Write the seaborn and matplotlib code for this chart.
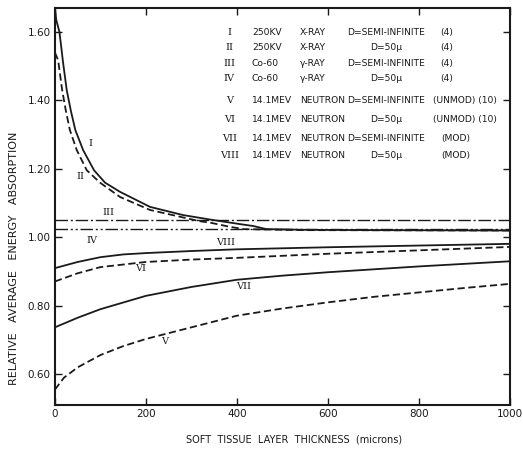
import numpy as np
import pandas as pd
import seaborn as sns
import matplotlib
matplotlib.use("Agg")
import matplotlib.pyplot as plt

# curve data (thickness in microns, relative absorption)
x_I = [0, 3, 10, 18, 26, 35, 45, 62, 86, 110, 143, 209, 282, 341, 400, 436, 465, 550, 700, 1000]
y_I = [1.67, 1.635, 1.60, 1.51, 1.43, 1.37, 1.313, 1.255, 1.196, 1.160, 1.133, 1.089, 1.065,
       1.052, 1.040, 1.033, 1.024, 1.022, 1.021, 1.02]
x_II = [0, 7, 16, 24, 33, 48, 70, 99, 143, 209, 282, 319, 341, 380, 414, 550, 1000]
y_II = [1.54, 1.518, 1.43, 1.37, 1.313, 1.255, 1.196, 1.16, 1.118, 1.080, 1.058, 1.047, 1.043,
        1.032, 1.024, 1.021, 1.02]
x_III = [0, 1000]
y_III = [1.052, 1.052]
x_IV = [0, 1000]
y_IV = [1.023, 1.023]
x_V = [0, 20, 50, 100, 150, 200, 300, 400, 500, 600, 700, 800, 900, 1000]
y_V = [0.555, 0.59, 0.62, 0.656, 0.682, 0.703, 0.737, 0.771, 0.792, 0.81, 0.826, 0.839, 0.852, 0.864]
x_VI = [0, 50, 100, 200, 300, 400, 600, 800, 1000]
y_VI = [0.871, 0.895, 0.913, 0.928, 0.935, 0.940, 0.952, 0.962, 0.972]
x_VII = [0, 50, 100, 200, 300, 400, 500, 600, 800, 1000]
y_VII = [0.737, 0.765, 0.79, 0.829, 0.855, 0.876, 0.888, 0.898, 0.915, 0.93]
x_VIII = [0, 50, 100, 150, 200, 300, 400, 600, 800, 1000]
y_VIII = [0.910, 0.928, 0.942, 0.950, 0.954, 0.960, 0.965, 0.971, 0.976, 0.981]

numerals = ["I", "II", "III", "IV", "V", "VI", "VII", "VIII"]
sources = ["250KV", "250KV", "Co-60", "Co-60", "14.1MEV", "14.1MEV", "14.1MEV", "14.1MEV"]
kinds = ["X-RAY", "X-RAY", "\u03b3-RAY", "\u03b3-RAY", "NEUTRON", "NEUTRON", "NEUTRON", "NEUTRON"]
depths = ["D=SEMI-INFINITE", "D=50\u03bc", "D=SEMI-INFINITE", "D=50\u03bc",
          "D=SEMI-INFINITE", "D=50\u03bc", "D=SEMI-INFINITE", "D=50\u03bc"]
notes = ["(4)", "(4)", "(4)", "(4)", "(UNMOD) (10)", "(UNMOD) (10)", "(MOD)", "(MOD)"]

# label positions for the curve numerals (data coords)
lab_x = [77, 56, 117, 81, 240, 189, 415, 376]
lab_y = [1.273, 1.179, 1.073, 0.99, 0.696, 0.91, 0.857, 0.985]

sns.set_theme(style="ticks")
plt.rcParams['font.family'] = ['DejaVu Sans']

fig = plt.figure(figsize=(5.23, 4.49), dpi=100)
ax = fig.add_axes([0.105, 0.098, 0.870, 0.884])

ink = "#1a1a1a"
series = [
    (x_I, y_I, None),
    (x_II, y_II, (4, 2)),
    (x_III, y_III, (9, 2, 1.5, 2)),
    (x_IV, y_IV, (9, 2, 1.5, 2, 1.5, 2)),
    (x_V, y_V, (4, 2)),
    (x_VI, y_VI, (4, 2)),
    (x_VII, y_VII, None),
    (x_VIII, y_VIII, None),
]
for xs, ys, dash in series:
    df = pd.DataFrame({"x": xs, "y": ys})
    lw = 1.3 if dash is None or len(dash) == 2 else 1.0
    sns.lineplot(data=df, x="x", y="y", ax=ax, color=ink, linewidth=lw)
    if dash is not None:
        ax.lines[-1].set_dashes(dash)

for name, tx, ty in zip(numerals, lab_x, lab_y):
    ax.text(tx, ty, name, family="DejaVu Serif", fontsize=7, color=ink,
            ha="center", va="center")

# legend table inside the plot
row_y = [1.60, 1.555, 1.508, 1.463, 1.40, 1.345, 1.29, 1.24]
tr = ax.get_yaxis_transform()
for i in range(8):
    ry = row_y[i]
    ax.text(0.383, ry, numerals[i], transform=tr,
            family="DejaVu Serif", fontsize=7, color=ink, ha="center", va="center")
    ax.text(0.433, ry, sources[i], transform=tr,
            fontsize=6.6, color=ink, ha="left", va="center")
    ax.text(0.538, ry, kinds[i], transform=tr,
            fontsize=6.6, color=ink, ha="left", va="center")
    if "SEMI" in depths[i]:
        ax.text(0.642, ry, depths[i], transform=tr,
                fontsize=6.6, color=ink, ha="left", va="center")
    else:
        ax.text(0.728, ry, depths[i], transform=tr,
                fontsize=6.6, color=ink, ha="center", va="center")
    nx = 0.846 if notes[i] == "(4)" else (0.832 if "UNMOD" in notes[i] else 0.85)
    ax.text(nx, ry, notes[i], transform=tr,
            fontsize=6.6, color=ink, ha="left", va="center")

ax.set_xlim(0, 1000)
ax.set_ylim(0.51, 1.67)
ax.set_xticks([0, 200, 400, 600, 800, 1000])
ax.set_yticks([0.60, 0.80, 1.00, 1.20, 1.40, 1.60])
ax.set_yticklabels(["0.60", "0.80", "1.00", "1.20", "1.40", "1.60"])
ax.tick_params(direction="in", length=5, width=1, colors=ink, labelsize=7.5,
               top=True, right=True, pad=3)
for s in ax.spines.values():
    s.set_linewidth(1.5)
    s.set_color(ink)

ax.set_xlabel("SOFT  TISSUE  LAYER  THICKNESS  (microns)", fontsize=7, color=ink)
ax.set_ylabel("RELATIVE   AVERAGE   ENERGY   ABSORPTION", fontsize=8, color=ink)
ax.xaxis.set_label_coords(0.525, -0.075)
ax.yaxis.set_label_coords(-0.08, 0.37)

fig.savefig("out.png", dpi=100)
